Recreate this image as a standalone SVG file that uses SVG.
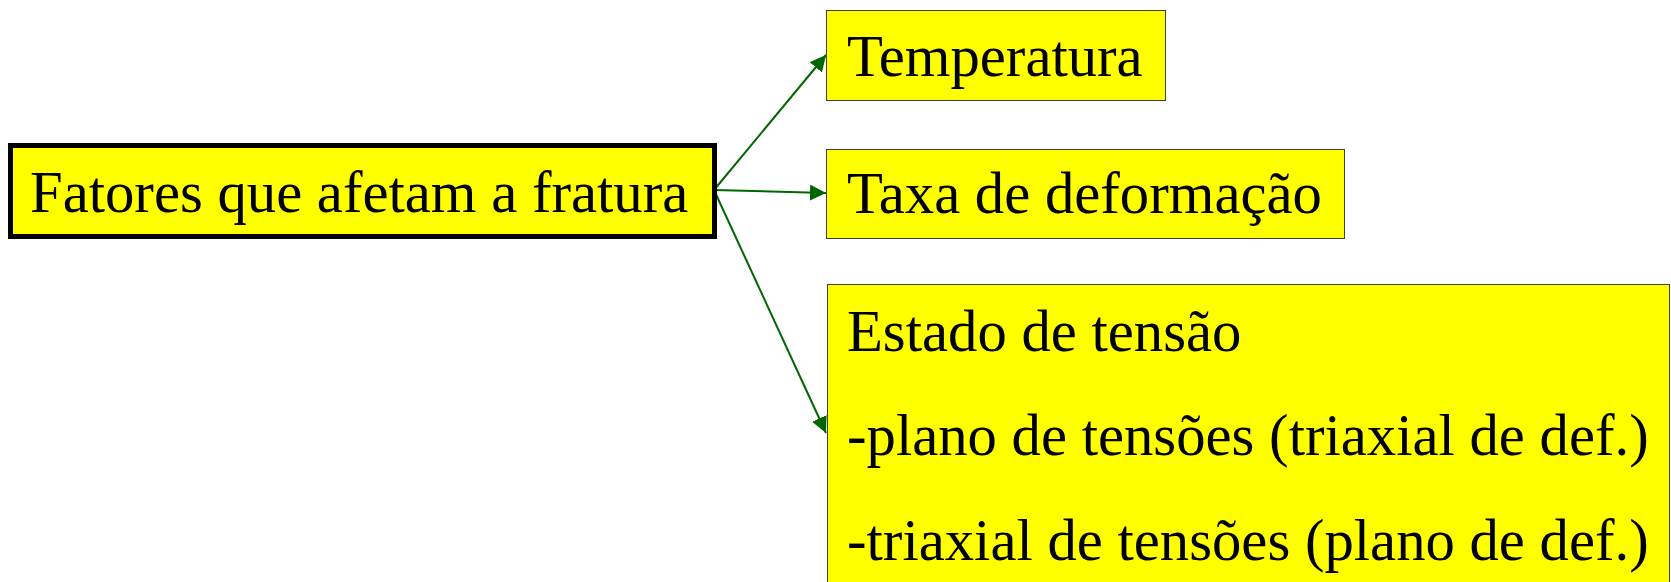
<svg xmlns="http://www.w3.org/2000/svg" width="1671" height="582" viewBox="0 0 1671 582">
<style>
.t{font-family:"Liberation Serif","Times New Roman",serif;font-size:58.7px;fill:#000}
.box{fill:#ffff00;stroke:#404040;stroke-width:1}
.main{fill:#ffff00;stroke:#000;stroke-width:5}
.c{stroke:#006600;stroke-width:2;fill:none;marker-end:url(#ah)}
</style>
<defs>
<marker id="ah" markerUnits="userSpaceOnUse" markerWidth="16" markerHeight="16" refX="16" refY="8" orient="auto">
<path d="M0,0 L16,8 L0,16 z" fill="#006600"/>
</marker>
</defs>
<rect width="1671" height="582" fill="#fff"/>
<g id="connectors">
<line class="c" x1="714" y1="190" x2="826" y2="55"/>
<line class="c" x1="714" y1="190" x2="826" y2="193"/>
<line class="c" x1="714" y1="190" x2="826" y2="433"/>
</g>
<g id="fatores">
<rect class="main" x="10.5" y="145.5" width="704" height="91"/>
<text class="t" x="30" y="212">Fatores que afetam a fratura</text>
</g>
<g id="temperatura">
<rect class="box" x="826.5" y="10.5" width="339" height="90"/>
<text class="t" x="847" y="76">Temperatura</text>
</g>
<g id="taxa">
<rect class="box" x="826.5" y="149.5" width="518" height="89"/>
<text class="t" x="847" y="213">Taxa de deformação</text>
</g>
<g id="estado">
<rect class="box" x="827.5" y="284.5" width="842" height="310"/>
<text class="t" x="847" y="351">Estado de tensão</text>
<text class="t" x="847" y="455">-plano de tensões (triaxial de def.)</text>
<text class="t" x="847" y="560">-triaxial de tensões (plano de def.)</text>
</g>
</svg>
